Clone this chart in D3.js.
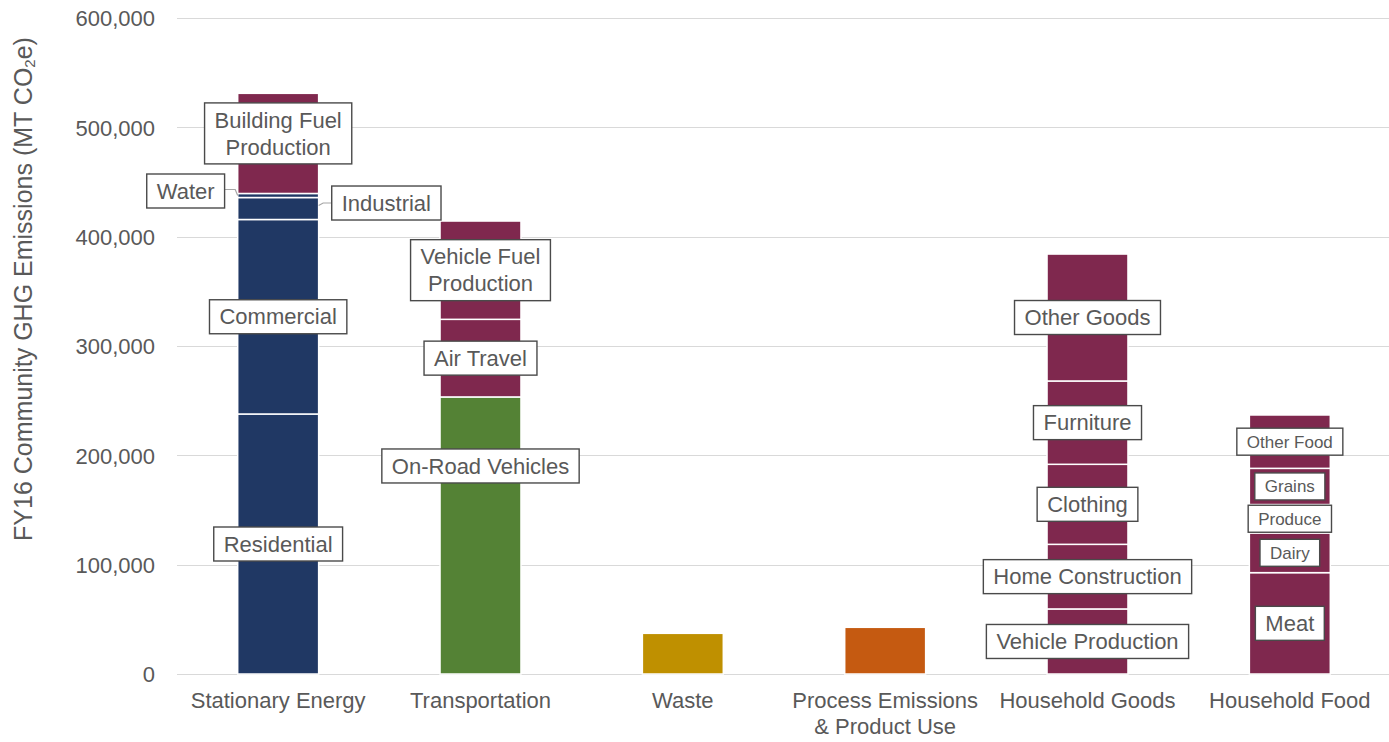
<!DOCTYPE html>
<html>
<head>
<meta charset="utf-8">
<script src="https://cdn.jsdelivr.net/npm/d3@7"></script>
<style>
  html, body { margin: 0; padding: 0; background: #ffffff; }
  svg { display: block; font-family: "Liberation Sans", Arial, Helvetica, sans-serif; }
</style>
</head>
<body>
<svg id="chart" width="1389" height="742"></svg>
<script>
// ---- Data (MT CO2e, FY16) ----
const categories = ["Stationary Energy", "Transportation", "Waste",
  "Process Emissions & Product Use", "Household Goods", "Household Food"];
const categoryLines = [["Stationary Energy"], ["Transportation"], ["Waste"],
  ["Process Emissions", "& Product Use"], ["Household Goods"], ["Household Food"]];

const stationarySources = ["Residential", "Commercial", "Industrial", "Water", "Building Fuel Production"];
const stationaryValues  = [237800, 177900, 20100, 3700, 91600];

const transportSources = ["On-Road Vehicles", "Air Travel", "Vehicle Fuel Production"];
const transportValues  = [253400, 71000, 89900];

const wasteSources = ["Waste"];
const wasteValues  = [37200];

const processSources = ["Process Emissions & Product Use"];
const processValues  = [42700];

const goodsSources = ["Vehicle Production", "Home Construction", "Clothing", "Furniture", "Other Goods"];
const goodsValues  = [59500, 59100, 73200, 76200, 116100];

const foodSources = ["Meat", "Dairy", "Produce", "Grains", "Other Food"];
const foodValues  = [92700, 36300, 26000, 33100, 48800];

const yTicks = [0, 100000, 200000, 300000, 400000, 500000, 600000];

// ---- Styling ----
const NAVY = "#203864", PLUM = "#7f284e", GREEN = "#548235", GOLD = "#bf9000", RUST = "#c55a11";
const TEXT = "#595959";

const groups = [
  { cat: categories[0], names: stationarySources, values: stationaryValues,
    colors: [NAVY, NAVY, NAVY, NAVY, PLUM] },
  { cat: categories[1], names: transportSources, values: transportValues,
    colors: [GREEN, PLUM, PLUM] },
  { cat: categories[2], names: wasteSources, values: wasteValues, colors: [GOLD], noLabel: true },
  { cat: categories[3], names: processSources, values: processValues, colors: [RUST], noLabel: true },
  { cat: categories[4], names: goodsSources, values: goodsValues, colors: [PLUM, PLUM, PLUM, PLUM, PLUM] },
  { cat: categories[5], names: foodSources, values: foodValues, colors: [PLUM, PLUM, PLUM, PLUM, PLUM] }
];

// label text wrapping and per-label tweaks (pixel nudges, font size, leader lines)
const labelLines = {
  "Building Fuel Production": ["Building Fuel", "Production"],
  "Vehicle Fuel Production": ["Vehicle Fuel", "Production"]
};
const labelNudge = {
  "Building Fuel Production": { dx: 0, dy: -10 },
  "On-Road Vehicles": { dx: 0, dy: -69.5 },
  "Water": { dx: -92.5, dy: -4.5, leader: "left" },
  "Industrial": { dx: 108.2, dy: -5.5, leader: "right" }
};
const smallLabels = new Set(["Other Food", "Grains", "Produce", "Dairy"]);

// ---- Layout ----
const svg = d3.select("#chart");
const plotLeft = 177, plotRight = 1391, plotTop = 18, plotBottom = 674;

const x = d3.scaleBand().domain(categories).range([plotLeft, plotRight])
  .paddingInner(0.6).paddingOuter(0.3);
const y = d3.scaleLinear().domain([0, 600000]).range([plotBottom, plotTop]);

// gridlines
svg.append("g").selectAll("line").data(yTicks).join("line")
  .attr("x1", plotLeft).attr("x2", 1389)
  .attr("y1", d => Math.round(y(d)) + 0.5).attr("y2", d => Math.round(y(d)) + 0.5)
  .attr("stroke", "#d9d9d9").attr("stroke-width", 1);

// y axis tick labels
const yAxis = d3.axisLeft(y).tickValues(yTicks).tickSize(0).tickPadding(0)
  .tickFormat(d3.format(","));
const yg = svg.append("g").attr("transform", `translate(155,0)`).call(yAxis);
yg.select(".domain").remove();
yg.selectAll("text").attr("fill", TEXT).attr("font-size", 22)
  .attr("font-family", "'Liberation Sans', Arial, sans-serif").attr("dy", "0.36em");

// y axis title
const title = svg.append("text")
  .attr("transform", "translate(31.5,289) rotate(-90)")
  .attr("text-anchor", "middle").attr("fill", TEXT).attr("font-size", 25);
title.append("tspan").text("FY16 Community GHG Emissions (MT CO");
title.append("tspan").text("2").attr("font-size", 15).attr("baseline-shift", "-3");
title.append("tspan").text("e)");

// category labels
const xg = svg.append("g");
categories.forEach((c, i) => {
  const t = xg.append("text").attr("x", x(c) + x.bandwidth() / 2).attr("y", 708)
    .attr("text-anchor", "middle").attr("fill", TEXT).attr("font-size", 22);
  categoryLines[i].forEach((ln, j) => {
    t.append("tspan").attr("x", x(c) + x.bandwidth() / 2).attr("dy", j === 0 ? 0 : 26).text(ln);
  });
});

// stacked segments
const segments = [];
groups.forEach(g => {
  let base = 0;
  g.values.forEach((v, i) => {
    segments.push({ cat: g.cat, name: g.names[i], y0: base, y1: base + v,
      color: g.colors[i], noLabel: g.noLabel });
    base += v;
  });
});

svg.append("g").selectAll("rect").data(segments).join("rect")
  .attr("x", d => x(d.cat))
  .attr("width", x.bandwidth())
  .attr("y", d => y(d.y1))
  .attr("height", d => y(d.y0) - y(d.y1))
  .attr("fill", d => d.color)
  .attr("stroke", "#ffffff").attr("stroke-width", 1.5);

// data labels with boxes
const lg = svg.append("g");
segments.filter(d => !d.noLabel).forEach(d => {
  const nudge = labelNudge[d.name] || { dx: 0, dy: 0 };
  const fs = smallLabels.has(d.name) ? 17 : 22;
  const lineH = fs === 17 ? 21 : 27;
  const padX = 10, padY = fs === 17 ? 3 : 3.5;
  const lines = labelLines[d.name] || [d.name];
  const cx = x(d.cat) + x.bandwidth() / 2 + nudge.dx;
  const cy = y((d.y0 + d.y1) / 2) + nudge.dy;

  const g = lg.append("g");
  const rect = g.append("rect");
  const t = g.append("text").attr("text-anchor", "middle").attr("fill", TEXT).attr("font-size", fs);
  const h = lines.length * lineH + padY * 2;
  lines.forEach((ln, j) => {
    t.append("tspan").attr("x", cx)
      .attr("y", cy - h / 2 + padY + j * lineH + lineH / 2 + fs * 0.35).text(ln);
  });
  const w = d3.max(t.selectAll("tspan").nodes(), n => n.getComputedTextLength()) + padX * 2;
  rect.attr("x", cx - w / 2).attr("y", cy - h / 2).attr("width", w).attr("height", h)
    .attr("fill", "#ffffff").attr("stroke", "#4a4a4a").attr("stroke-width", 1.4);

  if (nudge.leader) {
    const segY = y((d.y0 + d.y1) / 2);
    let pts;
    if (nudge.leader === "left") {
      const bx = cx + w / 2, barX = x(d.cat);
      pts = [[bx, cy - 1.5], [barX - 2.5, cy - 1.5], [barX, segY]];
    } else {
      const bx = cx - w / 2, barX = x(d.cat) + x.bandwidth();
      pts = [[bx, cy], [barX + 4.5, cy], [barX, cy + 2.5]];
    }
    lg.insert("path", ":first-child").attr("d", d3.line()(pts))
      .attr("fill", "none").attr("stroke", "#a6a6a6").attr("stroke-width", 1.2);
  }
});
</script>
</body>
</html>
